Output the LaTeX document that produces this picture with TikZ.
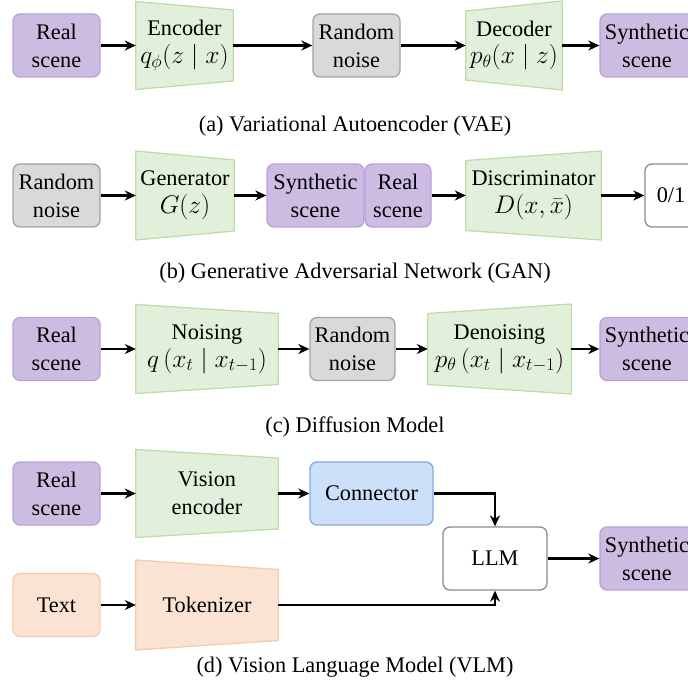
\RequirePackage{fix-cm}
\documentclass[tikz,border=0pt]{standalone}
\usepackage{fontspec}
\setmainfont{Liberation Serif}
\usetikzlibrary{arrows.meta,backgrounds}

\definecolor{sceneFill}{HTML}{CDBCE2}
\definecolor{sceneLine}{HTML}{B8A2D8}
\definecolor{netFill}{HTML}{E2EFDA}
\definecolor{netLine}{HTML}{BEDDA8}
\definecolor{noiseFill}{HTML}{D9D9D9}
\definecolor{noiseLine}{HTML}{A3A3A3}
\definecolor{connFill}{HTML}{CDE0F9}
\definecolor{connLine}{HTML}{86AAE0}
\definecolor{textFill}{HTML}{FBE3D4}
\definecolor{textLine}{HTML}{F7CBA8}
\definecolor{plainLine}{HTML}{8C8C8C}

\tikzset{
  lbl/.style={font=\fontsize{22.3}{27.8}\selectfont, align=center, inner sep=0pt},
  box/.style={lbl, rounded corners=7pt, line width=1.3pt, minimum height=63pt},
  scenebox/.style={box, fill=sceneFill, draw=sceneLine},
  noisebox/.style={box, fill=noiseFill, draw=noiseLine},
  connbox/.style={box, fill=connFill, draw=connLine},
  textbox/.style={box, fill=textFill, draw=textLine},
  plainbox/.style={box, fill=white, draw=plainLine},
  trapnode/.style={lbl, minimum height=70pt},
  netshape/.style={fill=netFill, draw=netLine, line width=1.3pt, line join=miter},
  tokshape/.style={fill=textFill, draw=textLine, line width=1.3pt, line join=miter},
  caption/.style={font=\fontsize{22.3}{27.8}\selectfont, inner sep=0pt, anchor=base},
  link/.style={line width=2.1pt, -{Stealth[length=11pt,width=10pt,inset=3.5pt]}},
}

% formulas are set a little larger than the labels around them
\newcommand\fml[1]{{\fontsize{25.5}{27.8}\selectfont$#1$}}

% trapezium drawn behind a named node: #1 node, #2 style, #3 left half-height, #4 right half-height
\newcommand\trapback[4]{%
  \begin{pgfonlayer}{background}
    \path[#2] ([yshift=#3pt]#1.west) -- ([yshift=#4pt]#1.east)
      -- ([yshift=-#4pt]#1.east) -- ([yshift=-#3pt]#1.west) -- cycle;
  \end{pgfonlayer}}

\begin{document}
\begin{tikzpicture}[x=1pt, y=-1pt]
\useasboundingbox (0,0) rectangle (688,687);

% ---------- (a) VAE ----------
\node[scenebox, minimum width=87pt] (a1) at (56.5,45.5) {Real\\scene};
\node[trapnode, minimum width=97pt] (a2) at (184.5,45.5) {Encoder\\\fml{q_\phi(z\mid x)}};
\trapback{a2}{netshape}{44}{35.5}
\node[noisebox, minimum width=87pt] (a3) at (356.5,45.5) {Random\\noise};
\node[trapnode, minimum width=96pt] (a4) at (514,45.5) {Decoder\\\fml{p_\theta(x\mid z)}};
\trapback{a4}{netshape}{34.5}{44.5}
\node[scenebox, minimum width=94pt] (a5) at (647,45.5) {Synthetic\\scene};
\draw[link] (a1) -- (a2);
\draw[link] (a2) -- (a3);
\draw[link] (a3) -- (a4);
\draw[link] (a4) -- (a5);
\node[caption] (capa) at (355,132) {(a) Variational Autoencoder (VAE)};

% ---------- (b) GAN ----------
\node[noisebox, minimum width=87pt] (b1) at (56.5,195.5) {Random\\noise};
\node[trapnode, minimum width=98pt] (b2) at (185,195.5) {Generator\\\fml{G(z)}};
\trapback{b2}{netshape}{44.5}{35.5}
\node[scenebox, minimum width=97pt] (b3) at (315.5,195.5) {Synthetic\\scene};
\node[scenebox, minimum width=66pt] (b4) at (398,195.5) {Real\\scene};
\node[trapnode, minimum width=135pt] (b5) at (533.5,195.5) {Discriminator\\\fml{D(x,\bar{x})}};
\trapback{b5}{netshape}{35}{44.5}
\node[plainbox, minimum width=52pt] (b6) at (671,195.5) {0/1};
\draw[link] (b1) -- (b2);
\draw[link] (b2) -- (b3);
\draw[link] (b4) -- (b5);
\draw[link] (b5) -- (b6);
\node[caption] (capb) at (355,278) {(b) Generative Adversarial Network (GAN)};

% ---------- (c) Diffusion ----------
\node[scenebox, minimum width=87pt] (c1) at (56.5,349) {Real\\scene};
\node[trapnode, minimum width=142pt] (c2) at (207,349) {Noising\\\fml{q\left(x_t\mid x_{t-1}\right)}};
\trapback{c2}{netshape}{44.5}{35.5}
\node[noisebox, minimum width=85pt] (c3) at (352.5,349) {Random\\noise};
\node[trapnode, minimum width=143pt] (c4) at (499.5,349) {Denoising\\\fml{p_\theta\left(x_t\mid x_{t-1}\right)}};
\trapback{c4}{netshape}{35.5}{45}
\node[scenebox, minimum width=94pt] (c5) at (647,349) {Synthetic\\scene};
\draw[link] (c1) -- (c2);
\draw[link] (c2) -- (c3);
\draw[link] (c3) -- (c4);
\draw[link] (c4) -- (c5);
\node[caption] (capc) at (355,432) {(c) Diffusion Model};

% ---------- (d) VLM ----------
\node[scenebox, minimum width=87pt] (d1) at (56.5,493.5) {Real\\scene};
\node[trapnode, minimum width=142pt] (d2) at (207,493.5) {Vision\\encoder};
\trapback{d2}{netshape}{44}{35.5}
\node[connbox, minimum width=123pt] (d3) at (371.5,493.5) {Connector};
\node[plainbox, minimum width=104pt] (d4) at (495,558.5) {LLM};
\node[scenebox, minimum width=94pt] (d5) at (647,558.5) {Synthetic\\scene};
\node[textbox, minimum width=87pt] (d6) at (56.5,605) {Text};
\node[trapnode, minimum width=142pt] (d7) at (207,605) {Tokenizer};
\trapback{d7}{tokshape}{45}{35.5}
\draw[link] (d1) -- (d2);
\draw[link] (d2) -- (d3);
\draw[link] (d3.east) -| (d4.north);
\draw[link] (d7.east) -| (d4.south);
\draw[link] (d4) -- (d5);
\draw[link] (d6) -- (d7);
\node[caption] (capd) at (355,672) {(d) Vision Language Model (VLM)};
\end{tikzpicture}
\end{document}
